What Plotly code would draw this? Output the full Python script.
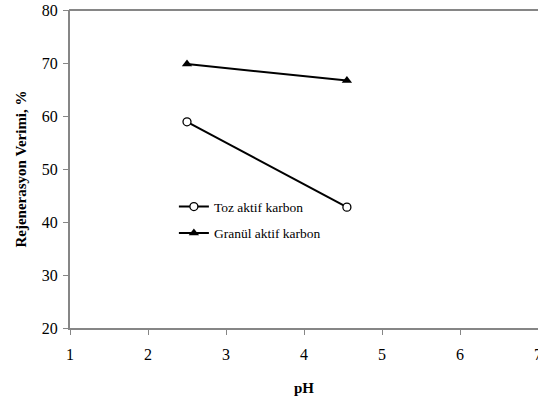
import plotly.graph_objects as go

ph = [2.5, 4.55]
toz = [58.9, 42.8]
granul = [69.8, 66.7]
x_ticks = [1, 2, 3, 4, 5, 6, 7]
y_ticks = [20, 30, 40, 50, 60, 70, 80]

fig = go.Figure()
fig.add_trace(go.Scatter(x=ph, y=toz, mode="lines+markers", name="Toz aktif karbon",
                         legendgroup="a",
                         line=dict(color="black", width=2),
                         marker=dict(symbol="circle", size=8, color="white",
                                     line=dict(color="black", width=1.3))))
fig.add_trace(go.Scatter(x=ph, y=granul, mode="lines+markers", name="Granül aktif karbon",
                         legendgroup="b",
                         line=dict(color="black", width=2),
                         marker=dict(symbol="triangle-up", size=9, color="black")))

font = "Liberation Serif, Times New Roman, serif"
fig.update_layout(
    width=538, height=403,
    margin=dict(l=70, r=0, t=10, b=75),
    paper_bgcolor="white", plot_bgcolor="white",
    font=dict(family=font, color="black", size=16),
    showlegend=True,
    legend=dict(x=0.222, y=0.43, xanchor="left", yanchor="top",
                bgcolor="rgba(0,0,0,0)", font=dict(size=13.5, family=font),
                tracegroupgap=6, traceorder="grouped", itemwidth=30),
    xaxis=dict(range=[1, 7], tickvals=x_ticks, showgrid=False, zeroline=False,
               showline=True, linecolor="#868686", linewidth=2,
               ticks="outside", ticklen=5, tickcolor="#868686", ticklabelstandoff=6,
               ticklabeloverflow="allow", automargin=False,
               tickfont=dict(size=16, family=font),
               title=dict(text="<b>pH</b>", font=dict(size=15, family=font), standoff=20)),
    yaxis=dict(range=[20, 80], tickvals=y_ticks, showgrid=False, zeroline=False,
               showline=True, linecolor="#868686", linewidth=2,
               ticks="outside", ticklen=5, tickcolor="#868686", ticklabelstandoff=2,
               automargin=False,
               tickfont=dict(size=16, family=font),
               title=dict(text="<b>Rejenerasyon Verimi, %</b>", font=dict(size=15, family=font), standoff=12)),
)
fig.add_shape(type="line", xref="paper", yref="paper", x0=-0.002, x1=1.01, y0=1, y1=1,
              line=dict(color="#868686", width=2), layer="above")

fig.write_html("out.html", config={"displayModeBar": False},
               post_script="document.body.style.margin='0';document.body.style.overflow='hidden';")
